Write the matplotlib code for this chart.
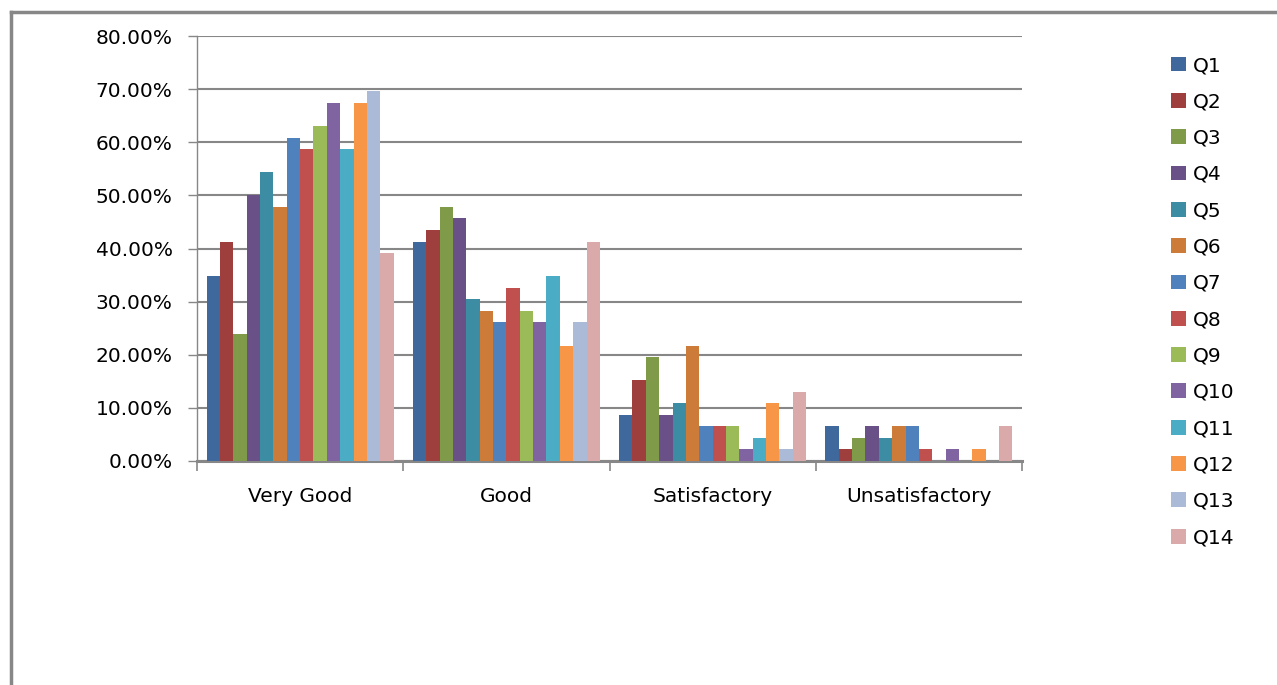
import matplotlib
matplotlib.use("Agg")
import matplotlib.pyplot as plt
from matplotlib.lines import Line2D
from matplotlib.patches import Patch
import numpy as np

categories = ["Very Good", "Good", "Satisfactory", "Unsatisfactory"]
series = ["Q1", "Q2", "Q3", "Q4", "Q5", "Q6", "Q7", "Q8", "Q9", "Q10", "Q11", "Q12", "Q13", "Q14"]
# percentages per question: [Very Good, Good, Satisfactory, Unsatisfactory]
q1 = [34.78, 41.30, 8.70, 6.52]
q2 = [41.30, 43.48, 15.22, 2.17]
q3 = [23.91, 47.83, 19.57, 4.35]
q4 = [50.00, 45.65, 8.70, 6.52]
q5 = [54.35, 30.43, 10.87, 4.35]
q6 = [47.83, 28.26, 21.74, 6.52]
q7 = [60.87, 26.09, 6.52, 6.52]
q8 = [58.70, 32.61, 6.52, 2.17]
q9 = [63.04, 28.26, 6.52, 0.00]
q10 = [67.39, 26.09, 2.17, 2.17]
q11 = [58.70, 34.78, 4.35, 0.00]
q12 = [67.39, 21.74, 10.87, 2.17]
q13 = [69.57, 26.09, 2.17, 0.00]
q14 = [39.13, 41.30, 13.04, 6.52]
values = [q1, q2, q3, q4, q5, q6, q7, q8, q9, q10, q11, q12, q13, q14]
colors = ["#3F699C", "#9E3F3D", "#7F9A48", "#695087", "#3C8CA3", "#CC7B38",
          "#4F81BD", "#C0504D", "#9BBB59", "#8064A2", "#4BACC6", "#F79646",
          "#AABAD7", "#D9AAA9"]

W, H = 1277, 685
fig = plt.figure(figsize=(W / 100, H / 100), dpi=100)
fig.patch.set_facecolor("white")
ax = fig.add_axes([197 / W, 1 - 461 / H, (1022 - 197) / W, (461 - 36) / H])

n = len(series)
bw = 13.36 / 206.25
x = np.arange(len(categories))
for j, (name, vals, c) in enumerate(zip(series, values, colors)):
    ax.bar(x + (j - (n - 1) / 2) * bw, np.array(vals) / 100.0, width=bw,
           color=c, label=name, zorder=3, linewidth=0)

gray = "#878787"
ax.set_xlim(-0.5, len(categories) - 0.5)
ax.set_ylim(0, 0.8)
yt = np.arange(0, 0.81, 0.1)
ax.set_yticks(yt)
ax.set_yticklabels([f"{v * 100:.2f}%" for v in yt])
ax.yaxis.grid(True, color=gray, linewidth=1.5, zorder=0)
ax.set_axisbelow(True)
ax.set_xticks(x)
ax.set_xticklabels(categories)
ax.set_xticks(np.arange(-0.5, len(categories), 1.0), minor=True)
ax.tick_params(axis="x", which="major", length=0, pad=19, labelsize=14.5)
ax.tick_params(axis="x", which="minor", length=7.5, width=1.2, color=gray, direction="out")
ax.tick_params(axis="y", length=6.5, width=1.0, color=gray, pad=11, labelsize=14.5)
for s in ["top", "right"]:
    ax.spines[s].set_visible(False)
ax.spines["left"].set_color(gray)
ax.spines["left"].set_linewidth(1.0)
ax.spines["bottom"].set_color(gray)
ax.spines["bottom"].set_linewidth(2.2)

handles = [Patch(facecolor=c, edgecolor="none") for c in colors]
fig.legend(handles, series, loc="upper left", bbox_to_anchor=(1171 / W, 1 - 56 / H),
           frameon=False, fontsize=14.5, handlelength=0.75, handleheight=0.75,
           handletextpad=0.35, labelspacing=0.86, borderaxespad=0, borderpad=0)

# outer chart border (top and left edges visible)
fig.add_artist(Line2D([11 / W, 1.0], [1 - 12 / H, 1 - 12 / H], transform=fig.transFigure,
                      color=gray, linewidth=2.5))
fig.add_artist(Line2D([11 / W, 11 / W], [0, 1 - 12 / H], transform=fig.transFigure,
                      color=gray, linewidth=2.5))

fig.savefig("out.png", dpi=100, facecolor="white")
